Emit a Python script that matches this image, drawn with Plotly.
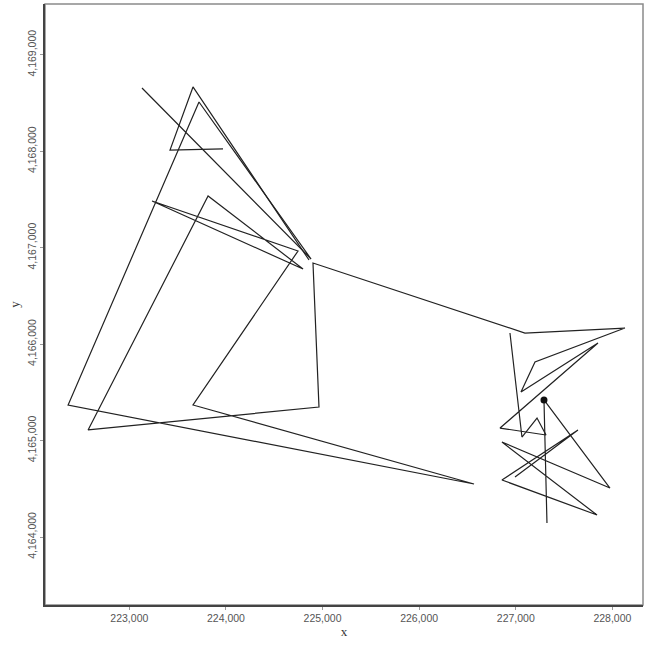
import plotly.graph_objects as go

# Track coordinates (UTM-like, metres); None separates path pieces
x_track = [223131, 224881, 223721, 222366, 226568, 223659, 224746, 223235, 224798,
           223815, 222573, 224963, 224901, 227095, 228130, 227199, 227054, 227851,
           226837, 227313, 227220, 227064, 226940,
           None,
           223970, 223421, 223659, 224860,
           None,
           227323, 227292, 227975, 226857, 227841, 226857, 227644, 226992]
y_track = [4168656, 4166883, 4168511, 4165369, 4164550, 4165369, 4166966, 4167484, 4166779,
           4167536, 4165110, 4165348, 4166841, 4166115, 4166167, 4165815, 4165504, 4166012,
           4165130, 4165058, 4165234, 4165037, 4166115,
           None,
           4168024, 4168013, 4168667, 4166872,
           None,
           4164145, 4165421, 4164508, 4164985, 4164228, 4164591, 4165110, 4164622]

x_dot = [227292]
y_dot = [4165421]

x_ticks = [223000, 224000, 225000, 226000, 227000, 228000]
y_ticks = [4164000, 4165000, 4166000, 4167000, 4168000, 4169000]

fig = go.Figure()
fig.add_trace(go.Scatter(x=x_track, y=y_track, mode="lines",
                         line=dict(color="#222222", width=1.2),
                         connectgaps=False, showlegend=False, hoverinfo="skip"))
fig.add_trace(go.Scatter(x=x_dot, y=y_dot, mode="markers",
                         marker=dict(color="#111111", size=7),
                         showlegend=False, hoverinfo="skip"))

axis_common = dict(showgrid=False, zeroline=False, showline=True, linecolor="#444444",
                   linewidth=1.5, mirror=False, ticks="outside", ticklen=3,
                   tickcolor="#999999", tickformat=",",
                   tickfont=dict(family="Liberation Sans", size=10.5, color="#555555"))

fig.update_layout(
    width=646, height=646,
    margin=dict(l=45, r=3, t=4, b=41),
    paper_bgcolor="white", plot_bgcolor="white",
    xaxis=dict(range=[222127, 228317], tickvals=x_ticks,
               title=dict(text="x", font=dict(family="Liberation Serif", size=13, color="#333333"), standoff=3),
               **axis_common),
    yaxis=dict(range=[4163295, 4169527], tickvals=y_ticks, tickangle=-90,
               title=dict(text="y", font=dict(family="Liberation Serif", size=13, color="#333333"), standoff=3),
               **axis_common),
    shapes=[dict(type="rect", xref="paper", yref="paper", x0=0, y0=0, x1=1, y1=1,
                 line=dict(color="#8a8a8a", width=1.5), layer="below")],
)

fig.write_html("out.html", config={"displayModeBar": False},
               post_script="document.body.style.margin='0';document.body.style.overflow='hidden';")
